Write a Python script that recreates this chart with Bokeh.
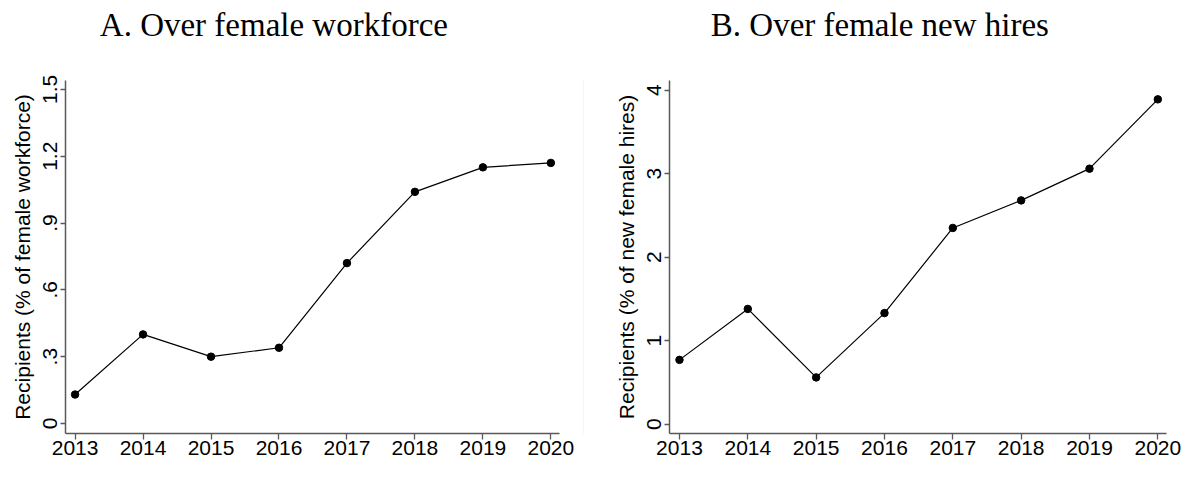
from bokeh.plotting import figure
from bokeh.layouts import row, column
from bokeh.models import Range1d, FixedTicker, Label, ColumnDataSource
from bokeh.embed import file_html
from bokeh.resources import INLINE

years = [2013, 2014, 2015, 2016, 2017, 2018, 2019, 2020]
pct_workforce = [0.13, 0.40, 0.30, 0.34, 0.72, 1.04, 1.15, 1.17]
pct_new_hires = [0.77, 1.38, 0.56, 1.33, 2.35, 2.68, 3.06, 3.89]

ticks_a = [0, 0.3, 0.6, 0.9, 1.2, 1.5]
tick_labels_a = ["0", ".3", ".6", ".9", "1.2", "1.5"]
ticks_b = [0, 1, 2, 3, 4]
tick_labels_b = ["0", "1", "2", "3", "4"]

title_a = "A. Over female workforce"
title_b = "B. Over female new hires"
ylabel_a = "Recipients (% of female workforce)"
ylabel_b = "Recipients (% of new female hires)"

SANS = "Liberation Sans"
SERIF = "Liberation Serif"
AXIS_COLOR = "#595959"
TITLE_H = 50
CHART_H = 411


def make_title(width, text, tx):
    t = figure(width=width, height=TITLE_H, output_backend="svg", toolbar_location=None,
               x_range=Range1d(0, width), y_range=Range1d(0, TITLE_H),
               min_border_left=0, min_border_right=0, min_border_top=0, min_border_bottom=0)
    t.axis.visible = False
    t.grid.visible = False
    t.outline_line_color = None
    t.background_fill_color = "white"
    t.border_fill_color = "white"
    t.add_layout(Label(x=tx, y=TITLE_H - 24.3, text=text, text_font=SERIF,
                       text_font_size="33px", text_color="black",
                       text_align="left", text_baseline="alphabetic"))
    return t


def make_panel(width, yvals, yr, xr, yticks, ylabels, ylabel, left, right):
    p = figure(width=width, height=CHART_H, output_backend="svg", toolbar_location=None,
               x_range=Range1d(*xr), y_range=Range1d(*yr),
               min_border_left=left, min_border_right=right,
               min_border_top=30, min_border_bottom=28)
    p.outline_line_color = None
    p.xgrid.visible = False
    p.ygrid.visible = False
    p.background_fill_color = "white"
    p.border_fill_color = "white"

    src = ColumnDataSource(dict(x=years, y=yvals))
    p.line("x", "y", source=src, line_color="black", line_width=1.2)
    p.scatter("x", "y", source=src, size=7.5, fill_color="black", line_color="black")

    xa = p.xaxis[0]
    xa.ticker = FixedTicker(ticks=years)
    xa.major_label_overrides = {y: str(y) for y in years}
    ya = p.yaxis[0]
    ya.ticker = FixedTicker(ticks=yticks)
    ya.major_label_overrides = {t: l for t, l in zip(yticks, ylabels)}
    ya.major_label_orientation = "vertical"
    ya.axis_label = ylabel
    ya.axis_label_standoff = 7
    ya.axis_label_text_font = SANS
    ya.axis_label_text_font_size = "21px"
    ya.axis_label_text_font_style = "normal"
    ya.axis_label_text_color = "black"

    for ax in (xa, ya):
        ax.axis_line_color = AXIS_COLOR
        ax.axis_line_width = 1.5
        ax.major_tick_line_color = AXIS_COLOR
        ax.major_tick_line_width = 1.3
        ax.minor_tick_line_color = None
        ax.major_tick_in = 0
        ax.major_tick_out = 6
        ax.major_label_text_font = SANS
        ax.major_label_text_font_size = "21px"
        ax.major_label_text_color = "black"
    xa.major_label_standoff = 1
    ya.major_label_standoff = 3
    ya.major_tick_out = 5
    return p


pa = make_panel(583, pct_workforce, (-0.045, 1.540), (2012.859, 2020.127),
                ticks_a, tick_labels_a, ylabel_a, 65, 24)
pb = make_panel(600, pct_new_hires, (-0.112, 4.116), (2012.854, 2020.127),
                ticks_b, tick_labels_b, ylabel_b, 85, 18)

sep = figure(width=1, height=CHART_H, output_backend="svg", toolbar_location=None,
             min_border_left=0, min_border_right=0, min_border_top=9, min_border_bottom=0)
sep.axis.visible = False
sep.grid.visible = False
sep.outline_line_color = None
sep.background_fill_color = "#ececec"
sep.border_fill_color = "white"

ta = make_title(584, title_a, 99.3)
tb = make_title(600, title_b, 126.3)

layout = column(row(ta, tb, spacing=0), row(pa, sep, pb, spacing=0), spacing=0)

open("out.html", "w").write(file_html(layout, INLINE))
